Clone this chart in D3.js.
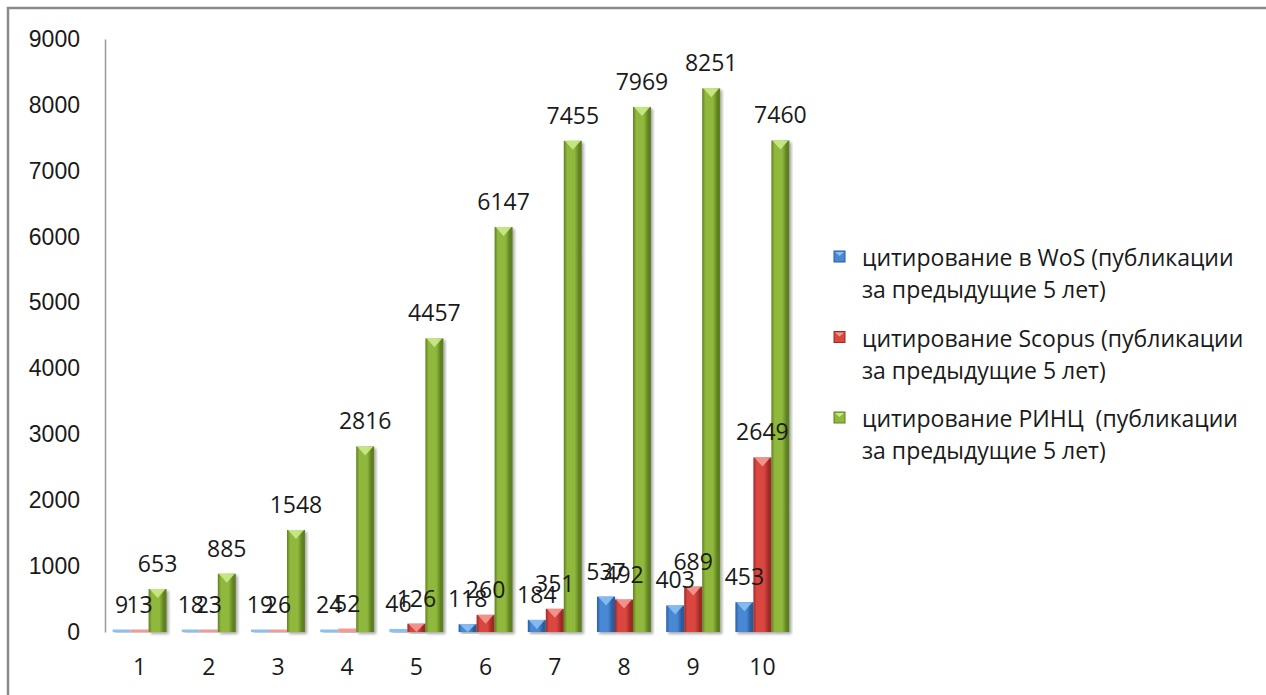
<!DOCTYPE html>
<html>
<head>
<meta charset="utf-8">
<script src="https://cdnjs.cloudflare.com/ajax/libs/d3/7.8.5/d3.min.js"></script>
<style>
  body { margin: 0; background: #fff; }
  svg { display: block; font-family: "Open Sans", "Liberation Sans", sans-serif; }
</style>
</head>
<body>
<div id="chart"></div>
<script>
var categories = ["1", "2", "3", "4", "5", "6", "7", "8", "9", "10"];
var wosValues = [9, 18, 19, 24, 46, 118, 184, 537, 403, 453];
var scopusValues = [13, 23, 26, 52, 126, 260, 351, 492, 689, 2649];
var rincValues = [653, 885, 1548, 2816, 4457, 6147, 7455, 7969, 8251, 7460];
var seriesNames = [
    ["цитирование в WoS (публикации", "за предыдущие 5 лет)"],
    ["цитирование Scopus (публикации", "за предыдущие 5 лет)"],
    ["цитирование РИНЦ  (публикации", "за предыдущие 5 лет)"]
];
var yTicks = [0, 1000, 2000, 3000, 4000, 5000, 6000, 7000, 8000, 9000];

var width = 1266,
    height = 695;

// colours per series: edge, mid, top highlight
var palette = [
    { key: "wos", dark: "#2b5d9e", mid: "#4a88d4", top: "#8cc0f4" },
    { key: "scopus", dark: "#9e2a28", mid: "#d9473f", top: "#f49a94" },
    { key: "rinc", dark: "#5f8023", mid: "#8fb83c", top: "#cbe98a" }
];

var series = [wosValues, scopusValues, rincValues];

var svg = d3.select("#chart")
    .append("svg")
    .attr("width", width)
    .attr("height", height);

var defs = svg.append("defs");

palette.forEach(function (p) {
    var g = defs.append("linearGradient")
        .attr("id", "grad-" + p.key)
        .attr("x1", "0").attr("x2", "1").attr("y1", "0").attr("y2", "0");
    g.append("stop").attr("offset", "0").attr("stop-color", p.dark);
    g.append("stop").attr("offset", "0.18").attr("stop-color", p.mid);
    g.append("stop").attr("offset", "0.6").attr("stop-color", p.mid);
    g.append("stop").attr("offset", "0.85").attr("stop-color", p.dark);
    g.append("stop").attr("offset", "1").attr("stop-color", p.dark);
});

var shadow = defs.append("filter").attr("id", "shadow")
    .attr("x", "-20%").attr("y", "-20%").attr("width", "140%").attr("height", "140%");
shadow.append("feGaussianBlur").attr("in", "SourceAlpha").attr("stdDeviation", 1.5);
shadow.append("feOffset").attr("dx", 1.5).attr("dy", 1.5).attr("result", "blur");
shadow.append("feComponentTransfer").append("feFuncA").attr("type", "linear").attr("slope", 0.35);
var merge = shadow.append("feMerge");
merge.append("feMergeNode");
merge.append("feMergeNode").attr("in", "SourceGraphic");

// outer frame (cropped at right and bottom)
svg.append("path")
    .attr("d", "M8," + height + "V8H" + width)
    .attr("fill", "none")
    .attr("stroke", "#8a8a8a")
    .attr("stroke-width", 2.5);

var y = d3.scaleLinear()
    .domain([0, 9000])
    .range([632, 39]);

var x0 = d3.scaleBand()
    .domain(categories)
    .range([105, 797])
    .paddingInner(0.22)
    .paddingOuter(0.11);

var x1 = d3.scaleBand()
    .domain([0, 1, 2])
    .range([0, x0.bandwidth()]);

// y axis
var yAxis = svg.append("g")
    .attr("transform", "translate(105,0)")
    .call(d3.axisLeft(y).tickValues(yTicks).tickSize(0).tickPadding(25).tickFormat(d3.format("d")));
yAxis.select(".domain").attr("stroke", "#9a9a9a").attr("stroke-width", 1.5);
yAxis.selectAll("text")
    .attr("font-size", 23)
    .attr("fill", "#1a1a1a")
    .style("font-family", "inherit");

// bars
var groups = svg.append("g")
    .selectAll("g")
    .data(categories)
    .enter()
    .append("g")
    .attr("transform", function (d) { return "translate(" + x0(d) + ",0)"; });

groups.each(function (cat, ci) {
    var g = d3.select(this);
    series.forEach(function (vals, si) {
        var p = palette[si];
        var v = vals[ci];
        var bx = x1(si), bw = x1.bandwidth();
        // tiny bars still show their bevelled top edge, as in the original
        var h = Math.max(y(0) - y(v), 2.5);
        var top = y(0) - h;
        var bar = g.append("g").attr("filter", "url(#shadow)");
        bar.append("rect")
            .attr("x", bx)
            .attr("y", top)
            .attr("width", bw)
            .attr("height", h)
            .attr("fill", h > 4 ? "url(#grad-" + p.key + ")" : p.top);
        var th = Math.min(9, h);
        if (h > 4) {
            bar.append("path")
                .attr("d", "M" + (bx + 1) + "," + top + "H" + (bx + bw - 1) + "L" + (bx + bw / 2) + "," + (top + th) + "Z")
                .attr("fill", p.top)
                .attr("opacity", 0.9);
        }
    });
});

// x axis line
svg.append("line")
    .attr("x1", 105).attr("x2", 797)
    .attr("y1", y(0)).attr("y2", y(0))
    .attr("stroke", "#9a9a9a")
    .attr("stroke-width", 2)
    .attr("filter", "url(#shadow)");

// x labels
svg.append("g")
    .selectAll("text")
    .data(categories)
    .enter()
    .append("text")
    .attr("x", function (d) { return x0(d) + x0.bandwidth() / 2; })
    .attr("y", 666)
    .attr("text-anchor", "middle")
    .attr("dominant-baseline", "central")
    .attr("font-size", 23)
    .attr("fill", "#1a1a1a")
    .text(function (d) { return d; });

// value labels (they overlap in the original too)
series.forEach(function (vals, si) {
    svg.append("g")
        .selectAll("text")
        .data(vals)
        .enter()
        .append("text")
        .attr("x", function (d, i) { return x0(categories[i]) + x1(si) + x1.bandwidth() / 2; })
        .attr("y", function (d) { return Math.min(y(d), y(0) - 2.5) - 26; })
        .attr("text-anchor", "middle")
        .attr("dominant-baseline", "central")
        .attr("font-size", 23)
        .attr("fill", "#1a1a1a")
        .text(function (d) { return d; });
});

// legend
var legend = svg.append("g")
    .selectAll("g")
    .data(seriesNames)
    .enter()
    .append("g")
    .attr("transform", function (d, i) { return "translate(834," + (257 + i * 80.5) + ")"; });

legend.append("rect")
    .attr("x", 0).attr("y", -6)
    .attr("width", 11).attr("height", 11)
    .attr("fill", function (d, i) { return palette[i].mid; })
    .attr("stroke", function (d, i) { return palette[i].dark; })
    .attr("stroke-width", 1);
legend.append("path")
    .attr("d", "M1,-5H10L5.5,-1Z")
    .attr("fill", function (d, i) { return palette[i].top; });

legend.append("text")
    .attr("x", 28)
    .attr("font-size", 23)
    .attr("fill", "#1a1a1a")
    .style("white-space", "pre")
    .selectAll("tspan")
    .data(function (d) { return d; })
    .enter()
    .append("tspan")
    .attr("x", 28)
    .attr("y", function (d, i) { return i * 32; })
    .attr("dominant-baseline", "central")
    .text(function (d) { return d; });
</script>
</body>
</html>
